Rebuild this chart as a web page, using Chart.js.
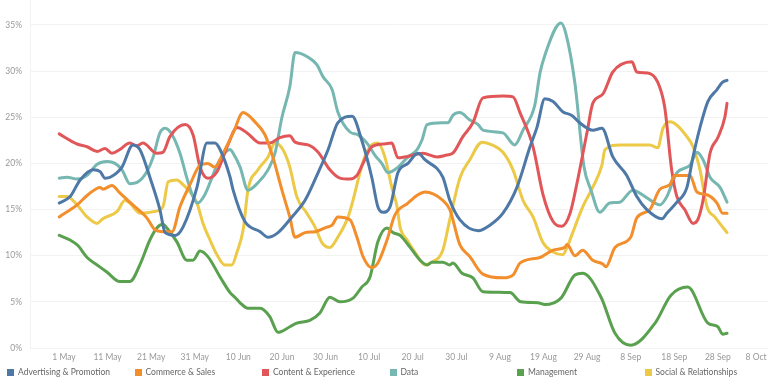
<!DOCTYPE html>
<html>
<head>
<meta charset="utf-8">
<script src="https://cdn.jsdelivr.net/npm/chart.js@4.4.1/dist/chart.umd.min.js"></script>
<style>
  html, body { margin: 0; padding: 0; background: #fff; }
  #wrap { position: relative; width: 768px; height: 384px; overflow: hidden; font-family: Lato, "Open Sans", sans-serif; }
  #box { position: absolute; left: 0; top: 0; width: 768px; height: 384px; }
  #legend { position: absolute; left: 7px; top: 366px; display: flex; z-index: 2; }
  .item { width: 127.5px; display: flex; align-items: center; font-size: 8.5px; color: #666; white-space: nowrap; line-height: 12px; }
  .sw { width: 7px; height: 7px; margin-right: 4px; flex: none; }
</style>
</head>
<body>
<div id="wrap">
  <div id="box"><canvas id="trend"></canvas></div>
  <div id="legend"></div>
</div>
<script>
// x values are days counted from 1 May, y values are percent
var xTickDays = [0, 10, 20, 30, 40, 50, 60, 70, 80, 90, 100, 110, 120, 130, 140, 150, 160];
var xTickLabels = ['1 May', '11 May', '21 May', '31 May', '10 Jun', '20 Jun', '30 Jun', '10 Jul', '20 Jul',
    '30 Jul', '9 Aug', '19 Aug', '29 Aug', '8 Sep', '18 Sep', '28 Sep', '8 Oct'];
var yTicks = [0, 5, 10, 15, 20, 25, 30, 35];

var seriesNames = ['Advertising & Promotion', 'Commerce & Sales', 'Content & Experience', 'Data', 'Management', 'Social & Relationships'];
var seriesColors = ['#4e79a7', '#f28e2b', '#e15759', '#76b7b2', '#59a14f', '#edc948'];

var advDays = [-1.1, 1.4, 3.7, 6.7, 8.3, 9.4, 10.6, 13.3, 15.8, 17.4, 19.7, 22.0, 23.2, 25.5, 27.3, 30.5, 32.8, 34.6, 35.8, 38.1,
    38.8, 41.5, 45.0, 46.8, 49.1, 52.3, 55.3, 58.3, 60.6, 62.8, 66.1, 68.3, 70.6, 72.0, 73.2, 74.8, 76.6, 78.9, 81.2, 82.8,
    86.9, 88.5, 90.8, 95.0, 97.7, 100.7, 103.9, 106.9, 108.5, 110.3, 112.2, 114.4, 116.5, 118.3, 121.3, 123.4, 125.9, 129.1,
    131.4, 133.7, 137.2, 138.3, 140.6, 142.9, 144.3, 145.9, 147.7, 149.8, 151.1, 152.1];
var advVals = [15.7, 16.4, 18.2, 19.3, 19.1, 18.4, 18.5, 19.6, 22.0, 21.5, 18.5, 15.0, 12.5, 12.2, 13.1, 17.4, 22.2, 22.2, 21.5, 18.5,
    17.1, 13.7, 12.6, 12.0, 12.5, 14.2, 16.0, 19.0, 21.5, 24.4, 25.1, 22.5, 18.5, 15.3, 14.7, 15.3, 19.0, 20.0, 21.1, 20.4,
    18.5, 16.0, 13.9, 12.7, 13.3, 14.6, 17.4, 21.8, 23.9, 27.0, 26.7, 25.6, 25.2, 24.4, 23.6, 23.8, 20.7, 18.7,
    16.4, 15.0, 14.0, 14.6, 15.8, 17.4, 20.7, 23.9, 26.7, 28.0, 28.8, 29.0];

var comDays = [-1.1, 3.0, 5.5, 8.3, 8.9, 11.0, 12.8, 15.8, 19.0, 20.9, 22.7, 24.8, 26.6, 28.9, 31.2, 33.0, 34.6, 36.5, 38.8, 41.1,
    43.8, 46.1, 47.9, 50.0, 51.8, 53.0, 55.3, 57.6, 60.3, 61.5, 62.8, 65.6, 67.2, 68.6, 70.6, 72.0, 74.1, 75.9, 78.9, 81.2,
    82.8, 86.9, 88.5, 90.8, 93.1, 96.1, 100.7, 103.0, 104.6, 109.2, 112.2, 114.9, 115.4, 117.2, 119.0, 121.3, 123.6, 124.3,
    126.4, 130.0, 131.4, 134.4, 136.7, 139.0, 140.1, 143.6, 145.2, 147.5, 149.8, 151.1, 152.1];
var comVals = [14.2, 15.5, 16.6, 17.4, 17.2, 17.6, 16.8, 15.5, 14.1, 12.8, 12.6, 12.6, 15.3, 17.7, 19.8, 20.0, 19.6, 21.1, 23.3, 25.5,
    24.5, 23.1, 20.7, 17.1, 14.2, 12.0, 12.5, 12.6, 13.1, 13.3, 14.2, 13.9, 12.0, 9.9, 8.7, 9.2, 11.7, 14.4, 15.7, 16.6,
    16.9, 16.0, 15.0, 11.2, 9.9, 8.0, 7.6, 7.9, 9.2, 9.8, 10.6, 10.9, 11.2, 10.0, 10.6, 9.5, 9.1, 8.8,
    10.9, 12.0, 14.1, 15.0, 17.2, 17.7, 18.7, 18.7, 16.9, 16.6, 15.7, 14.6, 14.6];

var conDays = [-1.1, 3.0, 5.3, 7.6, 9.4, 11.0, 12.8, 15.1, 16.7, 18.1, 21.3, 22.7, 24.3, 27.8, 29.6, 31.2, 33.0, 35.1, 37.6, 39.7,
    42.0, 45.0, 47.2, 49.5, 51.8, 53.0, 56.0, 58.3, 61.0, 63.3, 65.6, 67.2, 68.6, 70.6, 73.2, 75.2, 76.6, 81.0, 82.3, 85.6,
    87.8, 89.2, 91.5, 93.8, 96.1, 100.7, 103.0, 104.6, 107.6, 109.9, 112.2, 114.2, 116.1, 117.7, 120.0, 121.3, 123.6, 125.9,
    130.3, 131.4, 133.9, 136.2, 137.8, 139.4, 140.6, 142.4, 144.3, 145.4, 146.6, 148.2, 150.0, 151.6, 152.1];
var conVals = [23.2, 22.1, 21.8, 21.3, 21.6, 21.1, 21.5, 22.2, 21.9, 22.2, 21.1, 21.2, 22.9, 24.2, 23.1, 19.6, 18.4, 19.1, 22.0, 23.9,
    23.3, 22.2, 22.2, 22.8, 23.0, 22.3, 22.0, 21.2, 19.3, 18.4, 18.3, 18.7, 20.0, 21.8, 22.1, 22.2, 20.6, 21.0, 21.1, 20.7,
    20.9, 21.1, 22.9, 24.4, 27.1, 27.3, 27.2, 25.5, 21.8, 16.6, 13.7, 13.2, 14.6, 17.9, 23.4, 26.5, 27.5, 29.9,
    31.0, 29.9, 29.8, 28.8, 26.1, 19.3, 16.4, 15.0, 13.5, 13.9, 16.0, 21.1, 22.8, 25.0, 26.5];

var datDays = [-1.1, 0.7, 3.0, 5.3, 7.6, 9.9, 11.7, 13.3, 15.1, 17.0, 19.0, 20.4, 22.0, 23.2, 24.8, 26.6, 28.2, 29.6, 30.7, 32.3,
    33.9, 35.1, 36.5, 38.1, 38.8, 40.4, 42.2, 44.5, 46.8, 48.4, 50.0, 51.8, 53.0, 56.0, 58.0, 59.4, 61.5, 62.8, 65.6, 67.4,
    69.5, 71.3, 72.9, 74.3, 76.4, 78.7, 81.0, 82.1, 83.3, 86.7, 88.1, 89.2, 90.8, 93.1, 95.0, 96.1, 100.7, 103.4, 105.3,
    108.0, 109.2, 110.3, 114.0, 115.1, 117.2, 119.3, 120.9, 122.9, 125.2, 127.5, 130.5, 133.3, 136.7, 138.3, 140.6, 143.6,
    145.2, 146.6, 148.2, 150.5, 152.1];
var datVals = [18.4, 18.5, 18.3, 18.7, 19.9, 20.2, 20.0, 19.3, 17.8, 18.0, 19.1, 20.6, 23.3, 23.8, 23.1, 21.1, 18.4, 16.4, 15.7, 16.6,
    18.4, 19.8, 20.9, 21.5, 21.1, 19.6, 17.1, 17.9, 19.3, 21.1, 25.0, 28.3, 32.0, 31.5, 30.7, 29.4, 28.0, 25.6, 23.4, 23.1,
    22.2, 20.9, 20.0, 19.0, 19.5, 20.6, 21.5, 22.5, 24.2, 24.4, 24.4, 25.2, 25.5, 24.7, 24.2, 23.6, 23.3, 22.0, 23.6,
    26.3, 29.8, 31.7, 35.2, 34.1, 28.7, 19.6, 17.1, 14.7, 15.7, 15.8, 17.1, 16.4, 15.5, 16.4, 19.0, 19.8,
    21.2, 20.4, 18.5, 17.4, 15.8];

var manDays = [-1.1, 1.4, 3.2, 5.3, 7.6, 9.9, 12.8, 15.1, 17.4, 19.7, 21.3, 22.7, 23.6, 25.9, 28.2, 29.6, 31.2, 33.0, 35.8, 38.1,
    39.2, 40.4, 42.2, 45.0, 47.2, 49.1, 51.8, 53.4, 56.4, 58.7, 61.0, 63.3, 66.3, 68.3, 70.2, 72.0, 74.1, 75.5, 77.1, 79.4,
    81.7, 83.3, 84.4, 86.9, 88.5, 89.2, 91.3, 93.8, 96.1, 102.3, 104.8, 108.7, 110.3, 114.0, 117.2, 119.0, 123.2, 126.4,
    130.0, 135.6, 139.2, 143.1, 147.7, 150.0, 151.1, 152.1];
var manVals = [12.2, 11.7, 11.1, 9.8, 9.0, 8.2, 7.2, 7.2, 9.0, 11.7, 13.0, 13.4, 13.0, 11.5, 9.5, 9.5, 10.5, 9.9, 7.7, 6.0,
    5.5, 4.9, 4.3, 4.3, 3.4, 1.7, 2.3, 2.7, 3.0, 3.8, 5.5, 5.0, 5.4, 6.6, 7.7, 11.5, 13.0, 12.5, 12.2, 10.9,
    9.5, 9.0, 9.3, 9.3, 9.0, 9.2, 8.1, 7.6, 6.1, 6.0, 5.0, 4.9, 4.7, 5.4, 7.9, 8.1, 5.5, 1.6,
    0.3, 2.7, 5.7, 6.6, 2.7, 2.3, 1.5, 1.6];

var socDays = [-1.1, 0.7, 3.0, 5.3, 7.6, 8.9, 12.2, 14.0, 15.1, 17.4, 20.9, 22.7, 23.9, 25.9, 27.3, 28.9, 30.5, 31.9, 33.5, 35.1,
    36.9, 38.5, 39.7, 41.1, 42.2, 44.5, 46.8, 48.4, 50.2, 51.8, 53.4, 55.7, 57.6, 59.2, 61.0, 62.8, 65.1, 66.3, 67.9, 69.0,
    70.6, 72.0, 73.6, 75.2, 76.4, 77.1, 78.7, 80.5, 82.8, 84.4, 86.9, 88.5, 90.8, 93.1, 95.9, 98.2, 100.7, 103.0, 105.3,
    107.6, 109.9, 112.2, 114.4, 115.4, 116.7, 119.0, 121.3, 123.4, 124.1, 127.5, 130.5, 134.4, 136.2, 137.4, 139.0, 142.9,
    144.3, 145.9, 147.5, 149.3, 151.1, 152.1];
var socVals = [16.4, 16.4, 15.5, 14.2, 13.5, 14.0, 14.8, 16.0, 15.7, 14.6, 14.8, 15.3, 18.0, 18.2, 17.7, 16.9, 15.7, 13.5, 11.7, 10.1,
    9.0, 9.0, 10.4, 12.8, 17.1, 19.3, 20.7, 22.2, 21.5, 19.6, 16.4, 14.6, 13.1, 11.4, 10.9, 12.0, 14.1, 16.0, 19.0, 20.7,
    22.0, 22.2, 20.7, 17.4, 15.3, 13.1, 11.7, 10.4, 9.0, 9.3, 10.6, 13.9, 18.4, 20.4, 22.3, 22.0, 21.2, 19.3, 16.0,
    14.2, 11.4, 10.4, 10.1, 10.9, 12.5, 15.3, 17.4, 19.8, 21.5, 22.0, 22.0, 22.0, 21.7, 23.8, 24.5, 22.9,
    21.8, 19.3, 15.3, 14.2, 13.1, 12.5];

(function() {
    'use strict';

    var axisFont = { family: 'Lato, "Open Sans", sans-serif', size: 8.5 };
    var allDays = [advDays, comDays, conDays, datDays, manDays, socDays];
    var allVals = [advVals, comVals, conVals, datVals, manVals, socVals];

    function points(days, vals) {
        return days.map(function(d, i) { return { x: d, y: vals[i] }; });
    }

    function buildLegend() {
        var box = document.getElementById('legend');
        seriesNames.forEach(function(name, i) {
            var item = document.createElement('div');
            item.className = 'item';
            var sw = document.createElement('span');
            sw.className = 'sw';
            sw.style.background = seriesColors[i];
            item.appendChild(sw);
            item.appendChild(document.createTextNode(name));
            box.appendChild(item);
        });
    }

    function renderChart() {
        var datasets = seriesNames.map(function(name, i) {
            return {
                label: name,
                data: points(allDays[i], allVals[i]),
                borderColor: seriesColors[i],
                backgroundColor: seriesColors[i],
                borderWidth: 3,
                pointRadius: 0,
                fill: false,
                cubicInterpolationMode: 'monotone',
                borderCapStyle: 'round',
                borderJoinStyle: 'round'
            };
        });

        new Chart(document.getElementById('trend'), {
            type: 'line',
            data: { datasets: datasets },
            options: {
                responsive: true,
                maintainAspectRatio: false,
                animation: false,
                layout: { padding: 0 },
                plugins: { legend: { display: false }, tooltip: { enabled: false } },
                scales: {
                    x: {
                        type: 'linear',
                        min: -7.8,
                        max: 161.5,
                        grid: { display: false },
                        border: { display: false },
                        afterBuildTicks: function(scale) {
                            scale.ticks = xTickDays.map(function(v) { return { value: v }; });
                        },
                        afterFit: function(scale) {
                            // leaves room under the plot for the html legend
                            scale.height = 36;
                            scale.paddingLeft = 0;
                            scale.paddingRight = 0;
                        },
                        ticks: {
                            padding: -4,
                            maxRotation: 0,
                            autoSkip: false,
                            color: '#999',
                            font: axisFont,
                            callback: function(value) {
                                var idx = xTickDays.indexOf(value);
                                var text = xTickLabels[idx];
                                // last label sits at the right edge, push it inward
                                if (idx === xTickDays.length - 1) text = text + '\u00a0\u00a0\u00a0\u00a0\u00a0';
                                return text;
                            }
                        }
                    },
                    y: {
                        min: 0,
                        max: 37.7,
                        afterBuildTicks: function(scale) {
                            scale.ticks = yTicks.map(function(v) { return { value: v }; });
                        },
                        afterFit: function(scale) {
                            scale.width = 30;
                            scale.paddingTop = 0;
                            scale.paddingBottom = 0;
                        },
                        grid: { color: '#f2f2f2', lineWidth: 1, drawTicks: false },
                        border: { display: true, color: '#f2f2f2' },
                        ticks: {
                            padding: 8,
                            color: '#999',
                            font: axisFont,
                            callback: function(v) { return v + '%'; }
                        }
                    }
                }
            }
        });
    }

    buildLegend();
    renderChart();
})();
</script>
</body>
</html>
